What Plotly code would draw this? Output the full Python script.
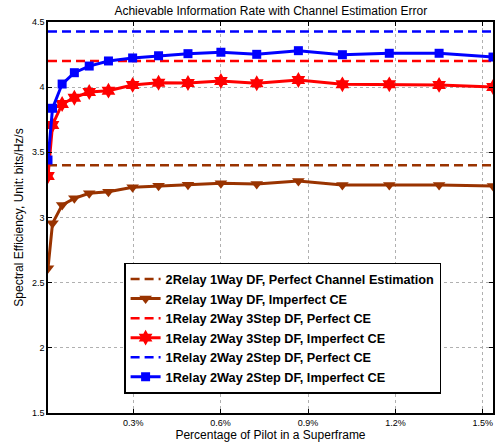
import plotly.graph_objects as go

# Pilot percentage (x values, %)
pilot_pct = [0.0075, 0.023, 0.056, 0.098, 0.149, 0.215, 0.298, 0.387, 0.488,
             0.601, 0.724, 0.867, 1.018, 1.179, 1.350, 1.535]

# Imperfect CE curves
relay2_1way = [2.610, 2.955, 3.096, 3.147, 3.186, 3.198, 3.232, 3.244, 3.252,
               3.262, 3.257, 3.280, 3.249, 3.249, 3.249, 3.242]
relay1_3step = [3.318, 3.710, 3.871, 3.919, 3.963, 3.973, 4.017, 4.034, 4.032,
                4.047, 4.030, 4.055, 4.022, 4.022, 4.017, 4.001]
relay1_2step = [3.441, 3.838, 4.024, 4.111, 4.162, 4.201, 4.224, 4.241, 4.257,
                4.268, 4.252, 4.280, 4.249, 4.260, 4.260, 4.231]

# Perfect CE levels
perfect_2relay_1way = 3.40
perfect_1relay_3step = 4.20
perfect_1relay_2step = 4.428

x_ticks = [0.3, 0.6, 0.9, 1.2, 1.5]
x_tick_labels = ["0.3%", "0.6%", "0.9%", "1.2%", "1.5%"]
y_ticks = [1.5, 2, 2.5, 3, 3.5, 4, 4.5]
y_tick_labels = ["1.5", "2", "2.5", "3", "3.5", "4", "4.5"]

BROWN = "#993300"
RED = "#ff0000"
BLUE = "#0000ff"
DASH = "9px,5px"

xe = [pilot_pct[0], pilot_pct[-1]]

fig = go.Figure()
fig.add_trace(go.Scatter(x=xe, y=[perfect_2relay_1way] * 2, mode="lines",
                         line=dict(color=BROWN, width=2.5, dash=DASH),
                         name="2Relay 1Way DF, Perfect Channel Estimation"))
fig.add_trace(go.Scatter(x=pilot_pct, y=relay2_1way, mode="lines+markers",
                         line=dict(color=BROWN, width=3),
                         marker=dict(symbol="triangle-down", size=11, color=BROWN),
                         name="2Relay 1Way DF, Imperfect CE"))
fig.add_trace(go.Scatter(x=xe, y=[perfect_1relay_3step] * 2, mode="lines",
                         line=dict(color=RED, width=2.5, dash=DASH),
                         name="1Relay 2Way 3Step DF, Perfect CE"))
fig.add_trace(go.Scatter(x=pilot_pct, y=relay1_3step, mode="lines+markers",
                         line=dict(color=RED, width=3),
                         marker=dict(symbol="hexagram", size=12, color=RED),
                         name="1Relay 2Way 3Step DF, Imperfect CE"))
fig.add_trace(go.Scatter(x=xe, y=[perfect_1relay_2step] * 2, mode="lines",
                         line=dict(color=BLUE, width=2.5, dash=DASH),
                         name="1Relay 2Way 2Step DF, Perfect CE"))
fig.add_trace(go.Scatter(x=pilot_pct, y=relay1_2step, mode="lines+markers",
                         line=dict(color=BLUE, width=3),
                         marker=dict(symbol="square", size=9, color=BLUE),
                         name="1Relay 2Way 2Step DF, Imperfect CE"))

FONT = "Liberation Sans, Arial, sans-serif"
fig.update_layout(
    width=497, height=444,
    margin=dict(l=48, r=4, t=22, b=31),
    paper_bgcolor="white", plot_bgcolor="white",
    font=dict(family=FONT, color="black"),
    title=dict(text="Achievable Information Rate with Channel Estimation Error",
               x=0.545, xanchor="center", y=0.985, yanchor="top",
               font=dict(size=12, family=FONT)),
    showlegend=True,
    legend=dict(x=0.171, y=0.384, xanchor="left", yanchor="top",
                bgcolor="white", bordercolor="black", borderwidth=1.5,
                font=dict(size=12.7, family=FONT, weight="bold"),
                tracegroupgap=0, itemwidth=30),
)
fig.update_xaxes(range=[pilot_pct[0], pilot_pct[-1]],
                 tickvals=x_ticks, ticktext=x_tick_labels,
                 ticks="inside", ticklen=4, tickcolor="black",
                 showline=True, linecolor="black", linewidth=1.5, mirror="allticks",
                 showgrid=True, gridcolor="#b0b0b0", griddash="dot", gridwidth=1,
                 zeroline=False, tickfont=dict(size=9), automargin=False,
                 title=dict(text="Percentage of Pilot in a Superframe",
                            font=dict(size=12), standoff=4))
fig.update_yaxes(range=[1.5, 4.5],
                 tickvals=y_ticks, ticktext=y_tick_labels,
                 ticks="inside", ticklen=4, tickcolor="black",
                 showline=True, linecolor="black", linewidth=1.5, mirror="allticks",
                 showgrid=True, gridcolor="#b0b0b0", griddash="dot", gridwidth=1,
                 zeroline=False, tickfont=dict(size=9), automargin=False,
                 title=dict(text="Spectral Efficiency, Unit: bits/Hz/s",
                            font=dict(size=12), standoff=6))

fig.write_html("out.html", config={"displayModeBar": False},
               post_script="document.body.style.margin='0';document.body.style.padding='0';")
